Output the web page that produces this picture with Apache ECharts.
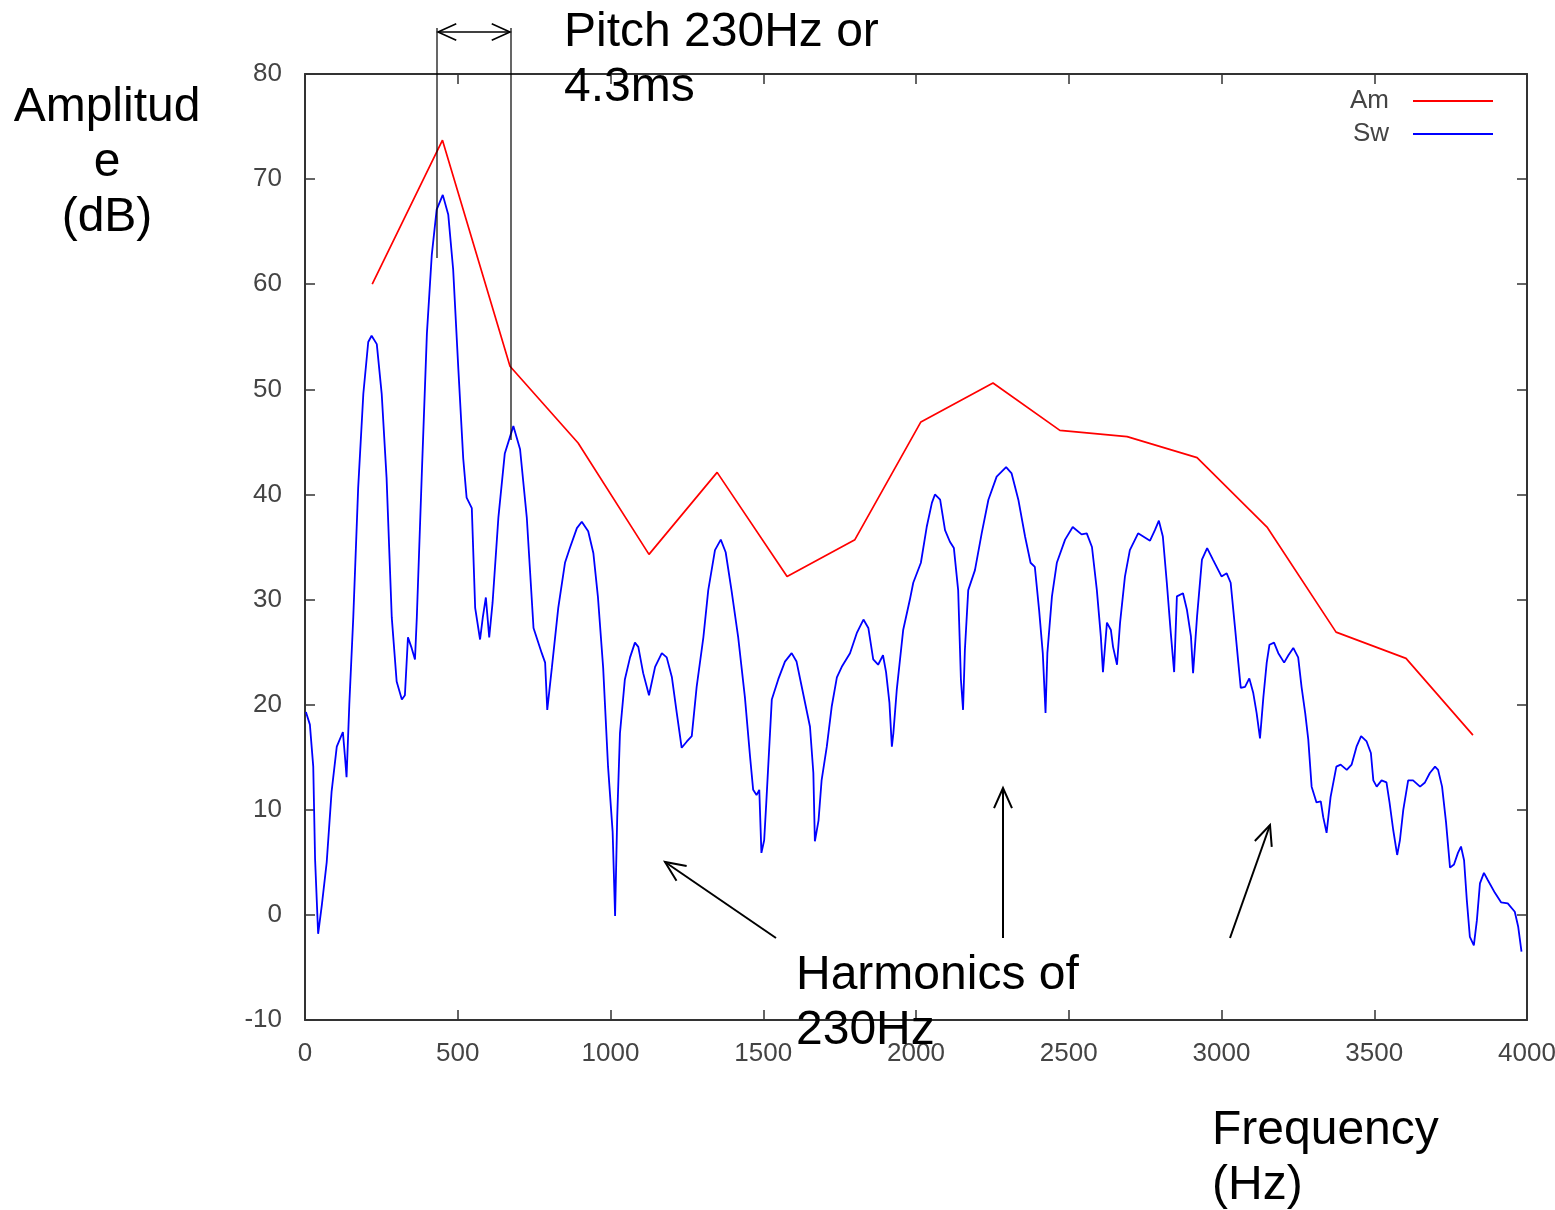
<!DOCTYPE html>
<html>
<head>
<meta charset="utf-8">
<script src="https://cdn.jsdelivr.net/npm/echarts@6/dist/echarts.min.js"></script>
<style>
  html,body{margin:0;padding:0;background:#fff;}
  #chart{width:1555px;height:1210px;}
</style>
</head>
<body>
<div id="chart"></div>
<script>
"use strict";

// x ticks / y ticks
var xTicks=[0,500,1000,1500,2000,2500,3000,3500,4000];
var yTicks=[-10,0,10,20,30,40,50,60,70,80];

// Am : peak envelope (Hz, dB)
var amFreq=[220,450,671,894,1126,1349,1578,1800,2016,2252,2471,2691,2920,3149,3375,3604,3823];
var amDb=[60,73.7,52.2,44.9,34.3,42.1,32.2,35.7,46.9,50.6,46.1,45.5,43.5,36.9,26.9,24.4,17.1];

// Sw : spectrum (Hz, dB)
var swFreq=[3,16,27,33,43,55,71,87,104,124,131,136,145,158,174,191,207,218,235,251,267,284,300,317,327,337,349,360,366,383,399,415,431,451,469,485,502,518,529,546,557,573,582,592,603,614,633,654,682,704,726,748,775,786,793,808,829,851,867,890,906,927,944,959,976,992,1007,1015,1022,1031,1047,1064,1080,1091,1107,1126,1146,1168,1184,1201,1217,1233,1250,1266,1282,1304,1320,1342,1361,1377,1396,1418,1440,1457,1467,1478,1487,1494,1503,1510,1528,1549,1571,1593,1609,1626,1653,1664,1669,1681,1691,1708,1724,1741,1757,1784,1806,1828,1844,1860,1876,1892,1902,1913,1921,1926,1937,1958,1980,1991,2016,2035,2052,2062,2079,2095,2111,2124,2138,2147,2154,2160,2171,2193,2215,2237,2264,2295,2313,2335,2357,2375,2389,2403,2415,2424,2430,2445,2461,2488,2513,2542,2559,2576,2592,2605,2612,2625,2638,2645,2658,2668,2684,2700,2727,2766,2782,2795,2808,2821,2834,2845,2854,2874,2887,2900,2907,2920,2936,2953,2972,3000,3017,3030,3044,3055,3063,3077,3091,3104,3115,3126,3137,3148,3157,3172,3186,3205,3219,3235,3251,3262,3274,3284,3295,3311,3325,3333,3344,3357,3376,3390,3410,3426,3442,3457,3475,3489,3497,3508,3524,3540,3550,3562,3575,3584,3595,3611,3627,3650,3666,3682,3699,3709,3722,3735,3748,3761,3774,3784,3794,3803,3813,3826,3836,3846,3859,3872,3895,3915,3937,3960,3971,3982];
var swDb=[19.3,18.1,14.1,5.3,-1.8,0.9,5.0,11.7,16.0,17.4,15.0,13.1,20.0,28.3,40.6,49.6,54.5,55.1,54.3,49.6,41.6,28.3,22.2,20.5,20.9,26.4,25.4,24.3,28.3,42.5,55.3,62.8,67.1,68.5,66.6,61.4,51.9,43.4,39.7,38.7,29.2,26.2,28.3,30.2,26.4,29.7,37.8,43.9,46.5,44.3,37.8,27.3,24.9,24.0,19.5,23.5,29.2,33.5,34.9,36.8,37.4,36.5,34.4,30.2,23.5,14.1,7.9,-0.1,9.3,17.3,22.4,24.5,25.9,25.5,23.0,20.9,23.6,24.9,24.5,22.6,19.2,15.9,16.5,17.0,21.7,26.4,30.9,34.7,35.7,34.5,30.9,26.4,20.7,15.0,11.9,11.4,11.9,5.9,7.1,10.7,20.5,22.4,24.1,24.9,24.1,21.7,17.9,13.5,7.0,9.0,12.8,16.0,19.8,22.6,23.6,24.9,26.8,28.1,27.3,24.3,23.8,24.7,23.1,20.2,16.0,17.3,21.4,27.1,30.0,31.6,33.5,36.9,39.2,40.0,39.5,36.6,35.5,34.9,30.9,22.4,19.5,25.2,30.9,32.8,36.3,39.5,41.7,42.6,42.0,39.5,36.0,33.5,33.1,29.0,24.9,19.2,24.9,30.3,33.5,35.7,36.9,36.2,36.3,35.0,30.9,26.5,23.1,27.8,27.1,25.5,23.8,27.8,32.2,34.7,36.3,35.6,36.6,37.5,36.0,31.6,26.8,23.1,30.3,30.6,29.0,26.5,23.0,28.4,33.8,34.9,33.8,32.2,32.5,31.6,27.4,24.0,21.6,21.7,22.5,21.1,19.2,16.8,20.7,24.0,25.7,25.9,24.9,24.0,24.7,25.4,24.5,21.7,19.2,16.7,12.2,10.7,10.8,9.3,7.8,11.2,14.1,14.3,13.8,14.3,16.0,17.0,16.5,15.4,12.8,12.2,12.8,12.6,10.7,8.1,5.7,7.1,10.0,12.8,12.8,12.2,12.6,13.5,14.1,13.8,12.2,8.8,4.5,4.8,5.9,6.5,5.2,1.4,-2.1,-2.9,-0.5,3.0,4.0,3.3,2.1,1.2,1.1,0.3,-1.1,-3.5];

var FONT='"Liberation Sans", Arial, sans-serif';

function pairs(xs,ys){
  var out=[];
  for (var i=0;i<xs.length;i++) out.push([xs[i],ys[i]]);
  return out;
}

function axisX(pos,showLabel){
  return {
    type:'value',position:pos,min:xTicks[0],max:xTicks[xTicks.length-1],
    interval:xTicks[1]-xTicks[0],
    axisLine:{show:true,onZero:false,lineStyle:{color:'#333',width:2}},
    axisTick:{show:true,inside:true,length:10,lineStyle:{color:'#333',width:1.5}},
    axisLabel:{show:showLabel,margin:21,fontSize:26,color:'#444',fontFamily:FONT,
      formatter:function(v){return String(v);}},
    splitLine:{show:false}
  };
}
function axisY(pos,showLabel){
  return {
    type:'value',position:pos,min:yTicks[0],max:yTicks[yTicks.length-1],
    interval:yTicks[1]-yTicks[0],
    axisLine:{show:true,onZero:false,lineStyle:{color:'#333',width:2}},
    axisTick:{show:true,inside:true,length:10,lineStyle:{color:'#333',width:1.5}},
    axisLabel:{show:showLabel,margin:23,fontSize:26,color:'#444',fontFamily:FONT},
    splitLine:{show:false}
  };
}

// arrow head as open V
function head(x1,y1,x2,y2,len){
  var a=Math.atan2(y2-y1,x2-x1),s=0.42;
  return [[x2-len*Math.cos(a-s),y2-len*Math.sin(a-s)],[x2,y2],[x2-len*Math.cos(a+s),y2-len*Math.sin(a+s)]];
}
function arrow(x1,y1,x2,y2,w,len){
  return [
    {type:'line',z:50,shape:{x1:x1,y1:y1,x2:x2,y2:y2},style:{stroke:'#000',lineWidth:w}},
    {type:'polyline',z:50,shape:{points:head(x1,y1,x2,y2,len)},style:{stroke:'#000',lineWidth:w,fill:null}}
  ];
}
function label(txt,x,y,align){
  return {type:'text',z:60,x:x,y:y,style:{text:txt,font:'48px '+FONT,fill:'#000',align:align||'left',verticalAlign:'top',lineHeight:55}};
}

var graphics=[]
  .concat([
    label('Amplitud\ne\n(dB)',107,80,'center'),
    label('Pitch 230Hz or\n4.3ms',564,5),
    label('Harmonics of\n230Hz',796,948),
    label('Frequency\n(Hz)',1212,1103),
    {type:'line',z:50,shape:{x1:437,y1:28,x2:437,y2:258},style:{stroke:'#000',lineWidth:1.2}},
    {type:'line',z:50,shape:{x1:511,y1:28,x2:511,y2:440},style:{stroke:'#000',lineWidth:1.2}}
  ])
  .concat(arrow(474,32,438,32,1.6,20))
  .concat(arrow(474,32,510,32,1.6,20))
  .concat(arrow(776,938,665,862,2,22))
  .concat(arrow(1003,938,1003,788,2,22))
  .concat(arrow(1230,938,1270,825,2,22));

var chart=echarts.init(document.getElementById('chart'),null,{renderer:'canvas'});
chart.setOption({
  animation:false,
  backgroundColor:'#fff',
  grid:{left:305,right:28,top:74,bottom:190,containLabel:false,outerBoundsMode:'none'},
  legend:{
    data:['Am','Sw'],orient:'vertical',right:57,top:83,align:'right',
    icon:'rect',itemWidth:80,itemHeight:2,itemGap:7,
    textStyle:{fontSize:26,color:'#444',fontFamily:FONT,padding:[0,19,0,0]}
  },
  xAxis:[axisX('bottom',true),axisX('top',false)],
  yAxis:[axisY('left',true),axisY('right',false)],
  series:[
    {name:'Am',type:'line',xAxisIndex:0,yAxisIndex:0,symbol:'none',data:pairs(amFreq,amDb),
     lineStyle:{color:'#ff0000',width:1.7},itemStyle:{color:'#ff0000'}},
    {name:'Sw',type:'line',xAxisIndex:0,yAxisIndex:0,symbol:'none',data:pairs(swFreq,swDb),
     lineStyle:{color:'#0000ff',width:1.8},itemStyle:{color:'#0000ff'}}
  ],
  graphic:graphics
});
</script>
</body>
</html>
